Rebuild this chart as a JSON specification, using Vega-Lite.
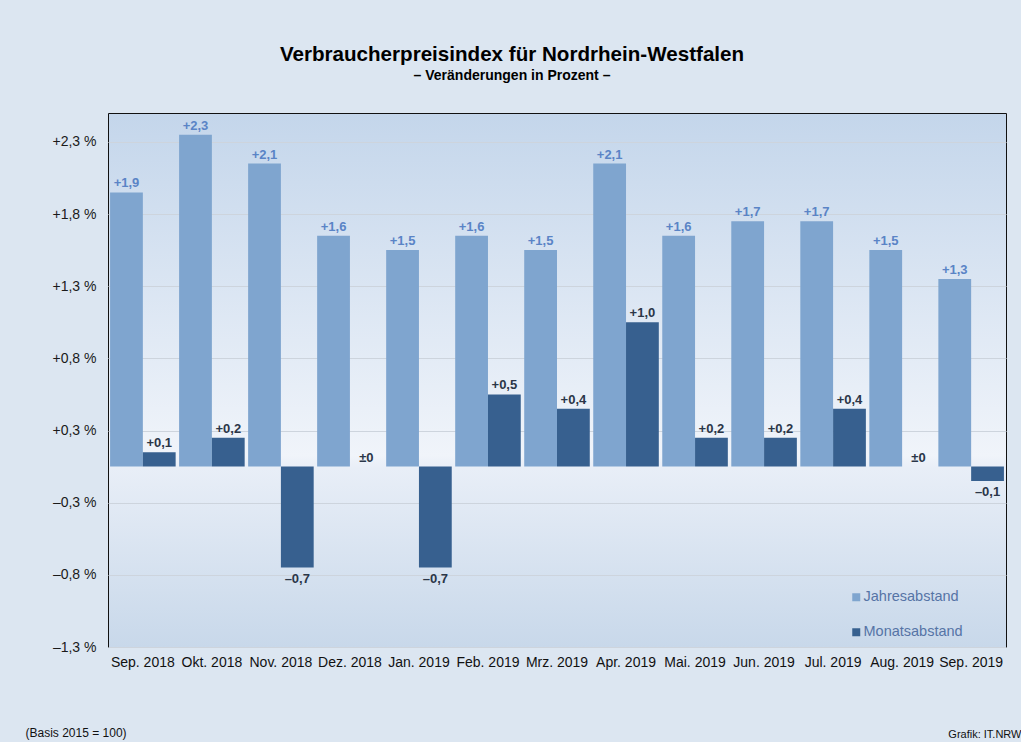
{
  "$schema": "https://vega.github.io/schema/vega-lite/v6.json",
  "width": 898,
  "height": 534,
  "autosize": {"type": "none"},
  "padding": {"left": 108, "top": 113, "right": 15, "bottom": 95},
  "background": "#dce6f1",
  "title": {
    "text": "Verbraucherpreisindex  für Nordrhein-Westfalen",
    "subtitle": "– Veränderungen in Prozent –",
    "font": "Liberation Sans",
    "subtitleFont": "Liberation Sans",
    "fontSize": 20.6,
    "fontWeight": "bold",
    "subtitleFontSize": 14,
    "subtitleFontWeight": "bold",
    "color": "#000000",
    "subtitleColor": "#000000",
    "anchor": "middle",
    "frame": "group",
    "dx": -45,
    "offset": 30,
    "subtitlePadding": 3
  },
  "data": {
    "values": [
      {"month": "Sep. 2018", "series": "Jahresabstand", "value": 1.9},
      {"month": "Sep. 2018", "series": "Monatsabstand", "value": 0.1},
      {"month": "Okt. 2018", "series": "Jahresabstand", "value": 2.3},
      {"month": "Okt. 2018", "series": "Monatsabstand", "value": 0.2},
      {"month": "Nov. 2018", "series": "Jahresabstand", "value": 2.1},
      {"month": "Nov. 2018", "series": "Monatsabstand", "value": -0.7},
      {"month": "Dez. 2018", "series": "Jahresabstand", "value": 1.6},
      {"month": "Dez. 2018", "series": "Monatsabstand", "value": 0},
      {"month": "Jan. 2019", "series": "Jahresabstand", "value": 1.5},
      {"month": "Jan. 2019", "series": "Monatsabstand", "value": -0.7},
      {"month": "Feb. 2019", "series": "Jahresabstand", "value": 1.6},
      {"month": "Feb. 2019", "series": "Monatsabstand", "value": 0.5},
      {"month": "Mrz. 2019", "series": "Jahresabstand", "value": 1.5},
      {"month": "Mrz. 2019", "series": "Monatsabstand", "value": 0.4},
      {"month": "Apr. 2019", "series": "Jahresabstand", "value": 2.1},
      {"month": "Apr. 2019", "series": "Monatsabstand", "value": 1.0},
      {"month": "Mai. 2019", "series": "Jahresabstand", "value": 1.6},
      {"month": "Mai. 2019", "series": "Monatsabstand", "value": 0.2},
      {"month": "Jun. 2019", "series": "Jahresabstand", "value": 1.7},
      {"month": "Jun. 2019", "series": "Monatsabstand", "value": 0.2},
      {"month": "Jul. 2019", "series": "Jahresabstand", "value": 1.7},
      {"month": "Jul. 2019", "series": "Monatsabstand", "value": 0.4},
      {"month": "Aug. 2019", "series": "Jahresabstand", "value": 1.5},
      {"month": "Aug. 2019", "series": "Monatsabstand", "value": 0},
      {"month": "Sep. 2019", "series": "Jahresabstand", "value": 1.3},
      {"month": "Sep. 2019", "series": "Monatsabstand", "value": -0.1}
    ]
  },
  "transform": [
    {"calculate": "datum.value == 0 ? '±0' : (datum.value > 0 ? '+' : '–') + replace(format(abs(datum.value), '.1f'), '.', ',')", "as": "label"}
  ],
  "encoding": {
    "x": {
      "field": "month",
      "type": "nominal",
      "sort": null,
      "scale": {"paddingInner": 0.05, "paddingOuter": 0.03},
      "axis": {
        "orient": "bottom",
        "labelAngle": 0,
        "ticks": false,
        "domain": false,
        "grid": false,
        "labelPadding": 8,
        "labelFont": "Liberation Sans",
        "labelFontSize": 14,
        "labelColor": "#111111",
        "title": "Grafik: IT.NRW",
        "titleFont": "Liberation Sans",
        "titleFontSize": 11,
        "titleFontWeight": "normal",
        "titleColor": "#111111",
        "titleAlign": "right",
        "titleAnchor": null,
        "titleBaseline": "alphabetic",
        "titleX": 913,
        "titleY": 90
      }
    },
    "xOffset": {"field": "series", "type": "nominal", "scale": {"paddingInner": 0, "paddingOuter": 0}}
  },
  "layer": [
    {
      "mark": {"type": "bar"},
      "encoding": {
        "y": {
          "field": "value",
          "type": "quantitative",
          "scale": {"domain": [-1.25, 2.45], "nice": false, "zero": false},
          "axis": {
            "values": [-1.25, -1, -0.75, -0.5, -0.25, 0, 0.25, 0.5, 0.75, 1, 1.25, 1.5, 1.75, 2, 2.25],
            "labelExpr": "abs((datum.value * 4) % 2) == 1 ? (datum.value > 0 ? '+' : '–') + replace(format(abs(datum.value), '.1f'), '.', ',') + ' %' : ''",
            "ticks": false,
            "domain": false,
            "grid": true,
            "gridColor": "#cdd4dd",
            "gridWidth": 1,
            "labelPadding": 12,
            "labelFont": "Liberation Sans",
            "labelFontSize": 14,
            "labelColor": "#1a1a1a",
            "title": "(Basis 2015 = 100)",
            "titleAngle": 0,
            "titleFont": "Liberation Sans",
            "titleFontSize": 12,
            "titleFontWeight": "normal",
            "titleColor": "#111111",
            "titleAlign": "left",
            "titleAnchor": null,
            "titleBaseline": "alphabetic",
            "titleX": -83,
            "titleY": 623
          }
        },
        "y2": {"datum": 0},
        "color": {
          "field": "series",
          "type": "nominal",
          "scale": {"domain": ["Jahresabstand", "Monatsabstand"], "range": ["#7fa5cf", "#37608f"]},
          "legend": {
            "title": null,
            "orient": "none",
            "legendX": 741,
            "legendY": 477,
            "padding": 0,
            "symbolType": "square",
            "symbolSize": 64,
            "symbolStrokeWidth": 0,
            "labelFont": "Liberation Sans",
            "labelFontSize": 14.5,
            "labelColor": "#5674a6",
            "labelOffset": 0,
            "rowPadding": 20
          }
        }
      }
    },
    {
      "transform": [{"filter": "datum.series == 'Jahresabstand'"}],
      "mark": {"type": "text", "baseline": "alphabetic", "dy": -5, "font": "Liberation Sans", "fontSize": 13, "fontWeight": "bold", "color": "#5a84c6"},
      "encoding": {
        "y": {"field": "value", "type": "quantitative"},
        "text": {"field": "label"}
      }
    },
    {
      "transform": [{"filter": "datum.series == 'Monatsabstand' && datum.value >= 0"}],
      "mark": {"type": "text", "baseline": "alphabetic", "dy": -5, "font": "Liberation Sans", "fontSize": 13, "fontWeight": "bold", "color": "#2b3648"},
      "encoding": {
        "y": {"field": "value", "type": "quantitative"},
        "text": {"field": "label"}
      }
    },
    {
      "transform": [{"filter": "datum.series == 'Monatsabstand' && datum.value < 0"}],
      "mark": {"type": "text", "baseline": "top", "dy": 5, "font": "Liberation Sans", "fontSize": 13, "fontWeight": "bold", "color": "#2b3648"},
      "encoding": {
        "y": {"field": "value", "type": "quantitative"},
        "text": {"field": "label"}
      }
    },
    {
      "mark": {"type": "rule", "color": "#111111", "strokeWidth": 1},
      "encoding": {"y": {"datum": 0}}
    }
  ],
  "config": {
    "view": {
      "stroke": "#111111",
      "strokeWidth": 1,
      "fill": {
        "gradient": "linear",
        "x1": 0, "y1": 0, "x2": 0, "y2": 1,
        "stops": [
          {"offset": 0, "color": "#c4d6eb"},
          {"offset": 0.64, "color": "#f0f4fa"},
          {"offset": 0.665, "color": "#e8eef7"},
          {"offset": 1, "color": "#c8d8ea"}
        ]
      }
    }
  }
}
